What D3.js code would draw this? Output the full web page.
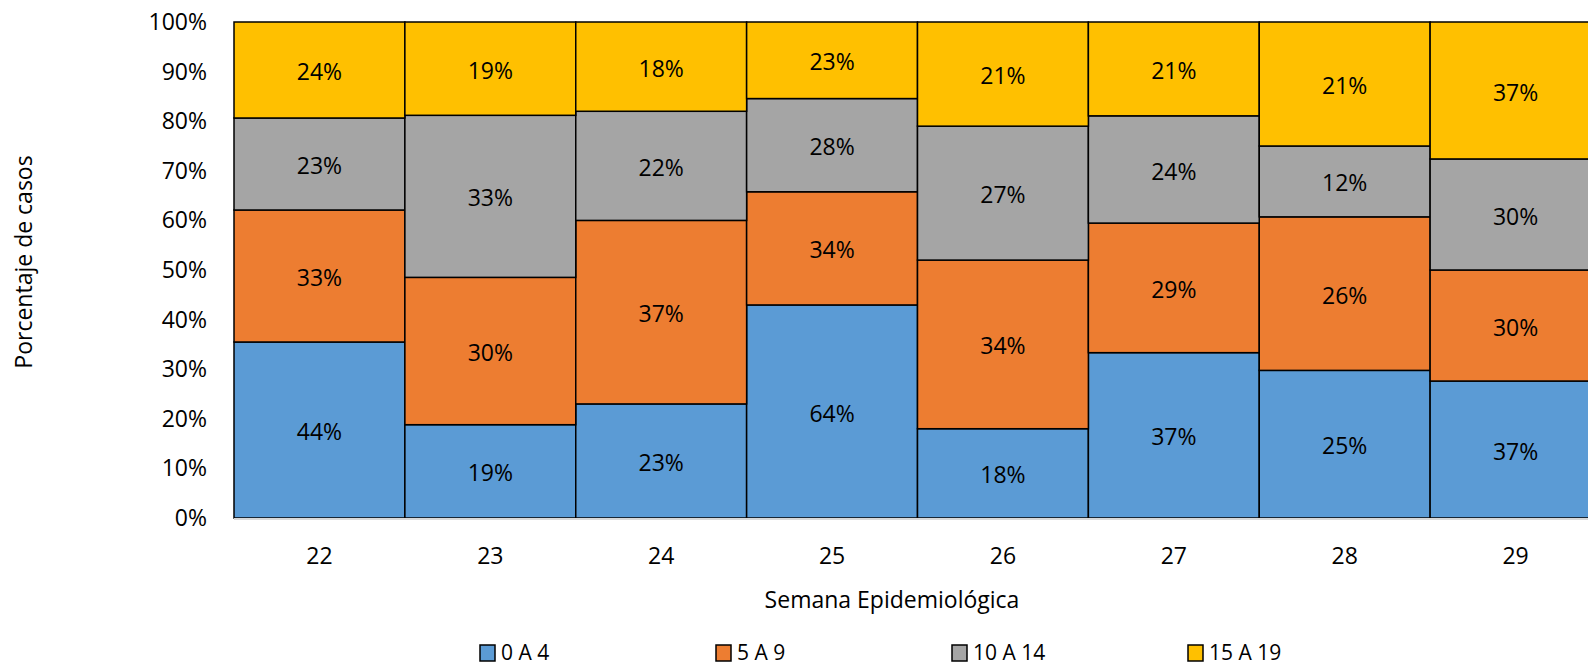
<!DOCTYPE html>
<html>
<head>
<meta charset="utf-8">
<script src="https://cdn.jsdelivr.net/npm/d3@7"></script>
<style>
  body { margin: 0; background: #fff; }
  svg { font-family: "Open Sans", sans-serif; }
</style>
</head>
<body>
<div id="container"></div>
<script>
// semanas epidemiologicas
var weeks = ["22", "23", "24", "25", "26", "27", "28", "29"];
var groups = ["0 A 4", "5 A 9", "10 A 14", "15 A 19"];
// valores de las etiquetas (%), por grupo de edad
var g0a4   = [44, 19, 23, 64, 18, 37, 25, 37];
var g5a9   = [33, 30, 37, 34, 34, 29, 26, 30];
var g10a14 = [23, 33, 22, 28, 27, 24, 12, 30];
var g15a19 = [24, 19, 18, 23, 21, 21, 21, 37];
var yTicks = [0, 0.1, 0.2, 0.3, 0.4, 0.5, 0.6, 0.7, 0.8, 0.9, 1];

var colors = ["#5B9BD5", "#ED7D31", "#A5A5A5", "#FFC000"];
var series = [g0a4, g5a9, g10a14, g15a19];

var rows = weeks.map(function(w, i) {
  var r = { week: w };
  groups.forEach(function(k, j) { r[k] = series[j][i]; });
  return r;
});

var W = 1588, H = 669;
var margin = {top: 22, left: 234};
var plotW = 1367, plotH = 496;

var svg = d3.select("#container").append("svg")
  .attr("width", W).attr("height", H);

var g = svg.append("g")
  .attr("transform", "translate(" + margin.left + "," + margin.top + ")");

var x = d3.scaleBand().domain(weeks).range([0, plotW]).padding(0);
var y = d3.scaleLinear().domain([0, 1]).range([plotH, 0]);
var z = d3.scaleOrdinal().domain(groups).range(colors);

var stacked = d3.stack().keys(groups).offset(d3.stackOffsetExpand)(rows);

// y tick labels
g.append("g")
  .selectAll("text")
  .data(yTicks)
  .enter().append("text")
  .attr("x", -27)
  .attr("y", function(d) { return y(d); })
  .attr("dy", "0.35em")
  .attr("text-anchor", "end")
  .attr("font-size", 23)
  .attr("fill", "#000")
  .text(function(d) { return d3.format(".0%")(d); });

var layer = g.append("g")
  .selectAll("g")
  .data(stacked)
  .enter().append("g")
  .attr("fill", function(d) { return z(d.key); });

layer.selectAll("rect")
  .data(function(d) { return d; })
  .enter().append("rect")
  .attr("x", function(d) { return x(d.data.week); })
  .attr("y", function(d) { return y(d[1]); })
  .attr("height", function(d) { return y(d[0]) - y(d[1]); })
  .attr("width", x.bandwidth())
  .attr("stroke", "#000")
  .attr("stroke-width", 1.5);

// data labels
layer.each(function(s) {
  d3.select(this).selectAll("text")
    .data(s)
    .enter().append("text")
    .attr("x", function(d) { return x(d.data.week) + x.bandwidth() / 2; })
    .attr("y", function(d) { return y((d[0] + d[1]) / 2) + 2; })
    .attr("dy", "0.35em")
    .attr("text-anchor", "middle")
    .attr("font-size", 23)
    .attr("fill", "#000")
    .text(function(d) { return d.data[s.key] + "%"; });
});

// x axis line
g.append("line")
  .attr("x1", 0).attr("x2", plotW)
  .attr("y1", plotH + 1).attr("y2", plotH + 1)
  .attr("stroke", "#d9d9d9").attr("stroke-width", 2);

// x tick labels
g.append("g")
  .selectAll("text")
  .data(weeks)
  .enter().append("text")
  .attr("x", function(d) { return x(d) + x.bandwidth() / 2; })
  .attr("y", plotH + 38)
  .attr("dy", "0.35em")
  .attr("text-anchor", "middle")
  .attr("font-size", 23)
  .text(function(d) { return d; });

// axis titles
svg.append("text")
  .attr("x", 892).attr("y", 600)
  .attr("dy", "0.35em")
  .attr("text-anchor", "middle")
  .attr("font-size", 23)
  .text("Semana Epidemiológica");

svg.append("text")
  .attr("transform", "translate(24,262) rotate(-90)")
  .attr("dy", "0.35em")
  .attr("text-anchor", "middle")
  .attr("font-size", 23)
  .text("Porcentaje de casos");

// legend
var legend = svg.append("g")
  .selectAll("g")
  .data(groups)
  .enter().append("g")
  .attr("transform", function(d, i) { return "translate(" + (480 + i * 236) + ",653)"; });

legend.append("rect")
  .attr("x", 0).attr("y", -8)
  .attr("width", 15).attr("height", 16)
  .attr("fill", z)
  .attr("stroke", "#000").attr("stroke-width", 1.5);

legend.append("text")
  .attr("x", 21)
  .attr("dy", "0.35em")
  .attr("font-size", 21)
  .text(function(d) { return d; });
</script>
</body>
</html>
